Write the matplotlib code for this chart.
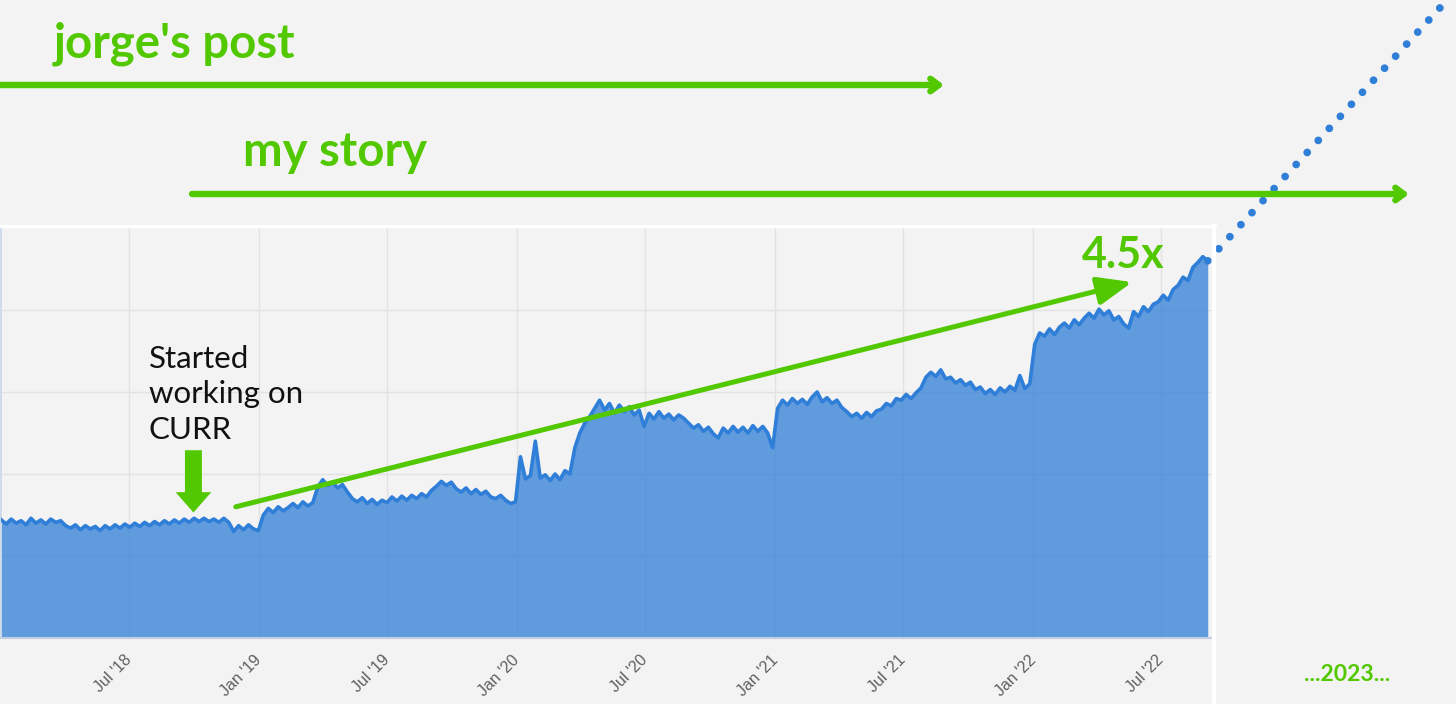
import matplotlib
matplotlib.use('Agg')
import matplotlib.pyplot as plt
from matplotlib.patches import FancyArrowPatch
from matplotlib.lines import Line2D
import pandas as pd

# ---------------- data ----------------
start_date = '2018-01-01'
weekly_values = [
    144, 139, 145, 140, 143, 138, 146, 140, 144, 139, 145, 141, 143, 137, 134, 138, 132, 137, 133, 136, 131, 137, 133, 138, 134, 139,
    135, 140, 136, 141, 137, 142, 138, 143, 139, 144, 140, 145, 141, 146, 142, 146, 142, 145, 141, 146, 141, 130, 137, 132, 138, 133,
    131, 150, 158, 153, 160, 155, 159, 164, 159, 166, 161, 165, 184, 193, 186, 190, 183, 187, 178, 170, 166, 171, 164, 169, 163, 168,
    165, 172, 167, 173, 168, 174, 170, 176, 172, 180, 185, 191, 186, 190, 182, 178, 183, 176, 181, 175, 179, 172, 170, 174, 168, 164,
    166, 221, 194, 198, 240, 195, 199, 192, 200, 193, 204, 200, 232, 250, 262, 270, 280, 290, 278, 286, 274, 284, 276, 282, 272, 278,
    258, 274, 267, 276, 268, 273, 266, 272, 268, 262, 256, 260, 252, 257, 249, 244, 256, 250, 258, 251, 257, 250, 259, 252, 258, 250,
    232, 280, 290, 284, 292, 286, 291, 285, 294, 300, 288, 293, 286, 290, 281, 276, 270, 274, 268, 275, 270, 277, 279, 286, 283, 292,
    290, 297, 292, 299, 305, 318, 324, 319, 327, 316, 318, 311, 315, 308, 312, 303, 306, 298, 303, 297, 305, 300, 307, 302, 320, 304,
    310, 358, 372, 368, 377, 370, 379, 384, 378, 388, 382, 390, 396, 390, 401, 394, 399, 388, 392, 383, 378, 398, 392, 404, 398, 407,
    410, 418, 412, 425, 430, 440, 436, 452, 458, 465, 460,
]
dates = pd.date_range(start_date, periods=len(weekly_values), freq='7D')

tick_dates = pd.to_datetime(['2018-07-01', '2019-01-01', '2019-07-01', '2020-01-01', '2020-07-01',
                             '2021-01-01', '2021-07-01', '2022-01-01', '2022-07-01'])
tick_labels = ["Jul '18", "Jan '19", "Jul '19", "Jan '20", "Jul '20",
               "Jan '21", "Jul '21", "Jan '22", "Jul '22"]
grid_levels = [100, 200, 300, 400]

projection_end_date = '2023-08-28'
projection_end_value = 795

curr_date = '2018-09-30'
curr_arrow_values = [229, 153]
trend_dates = ['2018-11-29', '2022-05-21']
trend_values = [160, 434]

x_limits = ['2018-01-01', '2022-09-11']
y_limits = [0, 500]

# ---------------- style ----------------
W, H = 1456, 704
BG = '#f3f3f3'
BLUE = '#2f7ed8'
GREEN = '#52c800'

fig = plt.figure(figsize=(W / 100, H / 100), dpi=100, facecolor=BG)


def fx(px):
    return px / W


def fy(py):
    return 1 - py / H


ax_left, ax_right, ax_top, ax_bottom = 1.3, 1212, 228, 638
ax = fig.add_axes([fx(ax_left), fy(ax_bottom), (ax_right - ax_left) / W, (ax_bottom - ax_top) / H])
ax.set_facecolor(BG)

ax.fill_between(dates, weekly_values, 0, color=BLUE, alpha=0.75, lw=0, zorder=2)
ax.plot(dates, weekly_values, color=BLUE, lw=2.6, zorder=3, solid_joinstyle='round')

# dotted projection
ax.plot([dates[-1], pd.Timestamp(projection_end_date)], [weekly_values[-1], projection_end_value],
        color=BLUE, lw=5.6, linestyle=(0, (0.001, 2.1)), dash_capstyle='round',
        clip_on=False, zorder=6)

ax.set_xlim(pd.Timestamp(x_limits[0]), pd.Timestamp(x_limits[1]))
ax.set_ylim(*y_limits)

ax.set_xticks(tick_dates)
ax.set_xticklabels(tick_labels, rotation=45, ha='right', va='center', rotation_mode='anchor',
                   fontsize=11.5, color='#606060', family='Liberation Sans')
ax.tick_params(axis='x', length=0, pad=14)
ax.set_yticks(grid_levels)
ax.tick_params(axis='y', length=0, labelleft=False)
ax.grid(True, color='#e2e2e2', lw=1)
ax.set_axisbelow(True)

for s in ['top', 'right']:
    ax.spines[s].set_visible(False)
ax.spines['left'].set_color('#c8d6ea')
ax.spines['left'].set_linewidth(1.2)
ax.spines['bottom'].set_color('#c0d0e0')
ax.spines['bottom'].set_linewidth(1.5)

# white frame around the screenshot chart
fig.add_artist(Line2D([0, fx(1215)], [fy(226), fy(226)], color='white', lw=2.5, transform=fig.transFigure))
fig.add_artist(Line2D([fx(1213.5), fx(1213.5)], [fy(226), 0], color='white', lw=3, transform=fig.transFigure))

# "Started working on CURR" arrow
ax.add_patch(FancyArrowPatch((pd.Timestamp(curr_date), curr_arrow_values[0]),
                             (pd.Timestamp(curr_date), curr_arrow_values[1]),
                             arrowstyle='simple,head_length=1.2,head_width=2.1,tail_width=1.0',
                             mutation_scale=12.2, color=GREEN, lw=0, shrinkA=0, shrinkB=0, zorder=7))
fig.text(fx(149), fy(345), "Started\nworking on\nCURR", family='Lato', fontsize=22.5, color='#111111',
         ha='left', va='top', linespacing=1.32)

# trend arrow
ax.add_patch(FancyArrowPatch((pd.Timestamp(trend_dates[0]), trend_values[0]),
                             (pd.Timestamp(trend_dates[1]), trend_values[1]),
                             arrowstyle='-|>,head_length=21,head_width=8.5',
                             mutation_scale=1, color=GREEN, lw=3.6, shrinkA=0, shrinkB=0, zorder=7,
                             clip_on=False))
fig.text(fx(1082), fy(268), "4.5x", family='Lato', fontweight='bold', fontsize=31, color=GREEN,
         ha='left', va='baseline')

# header timelines
fig.text(fx(54), fy(57), "jorge's post", family='Lato', fontweight='bold', fontsize=34, color=GREEN,
         ha='left', va='baseline')
fig.add_artist(FancyArrowPatch((0, fy(85)), (fx(944), fy(85)), transform=fig.transFigure,
                               arrowstyle='->,head_length=6,head_width=4.5', mutation_scale=1,
                               color=GREEN, lw=4.6, shrinkA=0, shrinkB=0))
fig.text(fx(243), fy(166), "my story", family='Lato', fontweight='bold', fontsize=34, color=GREEN,
         ha='left', va='baseline')
fig.add_artist(FancyArrowPatch((fx(192), fy(194)), (fx(1409), fy(194)), transform=fig.transFigure,
                               arrowstyle='->,head_length=6,head_width=4.5', mutation_scale=1,
                               color=GREEN, lw=4.6, shrinkA=0, shrinkB=0))

fig.text(fx(1347), fy(681), "...2023...", family='Lato', fontweight='bold', fontsize=16.5, color=GREEN,
         ha='center', va='baseline')

fig.savefig('out.png', dpi=100, facecolor=BG)
